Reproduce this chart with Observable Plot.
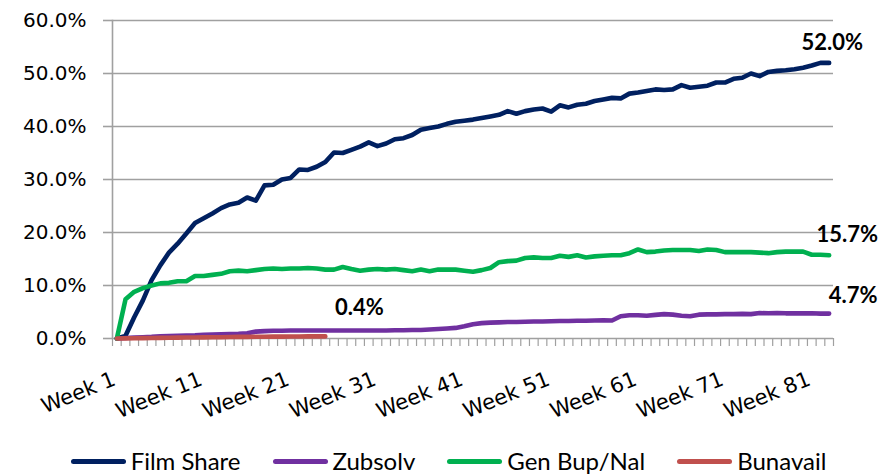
<!DOCTYPE html>
<html>
<head>
<meta charset="utf-8">
<script src="https://cdn.jsdelivr.net/npm/d3@7"></script>
<script src="https://cdn.jsdelivr.net/npm/@observablehq/plot@0.6"></script>
<style>
  html, body { margin: 0; padding: 0; background: #fff; }
  #chart { width: 881px; height: 476px; overflow: hidden; }
  #chart svg { display: block; }
  .legend { display: flex; justify-content: center; align-items: center; gap: 32px;
    font-family: Lato, "Noto Sans", sans-serif; font-size: 24px; color: #000;
    height: 30px; line-height: 30px; margin-top: 6px; padding-left: 16px; }
  .legend .item { display: flex; align-items: center; gap: 5px; }
  .legend .sw { display: inline-block; width: 55px; height: 5px; border-radius: 3px; }
</style>
</head>
<body>
<div id="chart"></div>
<script>
const weeks = d3.range(1, 84);
const filmShare = [0,0.5,4.0,7.2,11.0,13.8,16.2,17.9,19.8,21.8,22.7,23.6,24.6,25.3,25.6,26.6,26.0,28.9,29.0,30.0,
  30.3,31.9,31.8,32.4,33.3,35.1,35.0,35.6,36.2,37.0,36.3,36.8,37.6,37.8,38.4,39.4,39.7,40.0,40.5,40.9,
  41.1,41.3,41.6,41.9,42.2,42.9,42.4,42.9,43.2,43.4,42.8,44.0,43.6,44.1,44.3,44.8,45.1,45.4,45.3,46.2,
  46.4,46.7,47.0,46.9,47.0,47.8,47.3,47.5,47.7,48.3,48.3,49.0,49.2,50.0,49.5,50.3,50.5,50.6,50.8,51.1,
  51.5,52.0,52.0];
const zubsolv = [0,0.1,0.2,0.25,0.3,0.4,0.45,0.5,0.55,0.6,0.7,0.75,0.8,0.85,0.9,1.0,1.3,1.4,1.45,1.45,
  1.5,1.5,1.5,1.5,1.5,1.5,1.5,1.5,1.5,1.5,1.5,1.5,1.55,1.55,1.6,1.6,1.7,1.8,1.9,2.0,
  2.3,2.7,2.9,3.0,3.05,3.1,3.1,3.15,3.2,3.2,3.25,3.3,3.3,3.35,3.35,3.4,3.45,3.4,4.2,4.4,
  4.4,4.3,4.45,4.6,4.5,4.3,4.2,4.5,4.55,4.55,4.6,4.6,4.65,4.6,4.8,4.75,4.8,4.75,4.75,4.75,
  4.75,4.7,4.7];
const genBupNal = [0,7.4,8.8,9.5,10.0,10.4,10.5,10.8,10.8,11.8,11.8,12.0,12.2,12.7,12.8,12.7,12.9,13.1,13.2,13.1,
  13.2,13.2,13.3,13.2,13.0,13.0,13.5,13.1,12.8,13.0,13.1,13.0,13.1,12.9,12.7,13.0,12.7,13.0,13.0,13.0,
  12.8,12.6,12.9,13.3,14.4,14.6,14.7,15.2,15.3,15.2,15.2,15.6,15.4,15.7,15.3,15.5,15.6,15.7,15.7,16.1,
  16.8,16.3,16.4,16.6,16.7,16.7,16.7,16.5,16.8,16.7,16.3,16.3,16.3,16.3,16.2,16.1,16.3,16.4,16.4,16.4,
  15.8,15.8,15.7];
const bunavail = [0,0.02,0.05,0.08,0.1,0.12,0.15,0.17,0.2,0.2,0.22,0.25,0.25,0.27,0.3,0.3,0.32,0.33,0.35,0.35,
  0.37,0.38,0.4,0.4,0.4];
const seriesNames = ["Film Share", "Zubsolv", "Gen Bup/Nal", "Bunavail"];
const seriesColors = ["#002060", "#7030A0", "#00B050", "#C0504D"];
const seriesValues = [filmShare, zubsolv, genBupNal, bunavail];
const yTicks = [0, 10, 20, 30, 40, 50, 60];
const xLabelWeeks = [1, 11, 21, 31, 41, 51, 61, 71, 81];

const rows = seriesValues.map((vals, s) => vals.map((v, i) => ({series: seriesNames[s], week: weeks[i], value: v})));
const lastPoints = rows.map(r => r[r.length - 1]);
const labelOffsets = [{dx: 3, dy: -13}, {dx: 24, dy: -11}, {dx: 18, dy: -13}, {dx: 34, dy: -21}];
const boundaries = d3.range(0.5, weeks.length + 1, 1);

const gray = "#a0a0a0";
const marks = [
  Plot.gridY(yTicks, {stroke: gray, strokeOpacity: 1, strokeWidth: 1.6}),
  Plot.axisY(yTicks, {label: null, tickSize: 9, tickPadding: 17, stroke: gray, strokeWidth: 1.6,
    tickFormat: d => d.toFixed(1) + "%", fontSize: 20, fontFamily: "DejaVu Sans", fill: "#000"}),
  Plot.frame({anchor: "left", stroke: gray, strokeWidth: 1.6}),
  Plot.axisX(boundaries, {label: null, tickSize: 8, tickFormat: () => "", stroke: gray, strokeWidth: 1.2}),
  Plot.text(xLabelWeeks, {x: d => d, y: () => 0, text: d => "Week " + d, rotate: -22, textAnchor: "end",
    lineAnchor: "bottom", dx: 0, dy: 46, fontSize: 21, fontFamily: "DejaVu Sans", fill: "#000"}),
];
rows.forEach((r, s) => {
  marks.push(Plot.line(r, {x: "week", y: "value", stroke: seriesColors[s], strokeWidth: 4.6,
    strokeLinecap: "round", strokeLinejoin: "round"}));
});
lastPoints.forEach((p, s) => {
  marks.push(Plot.text([p], {x: "week", y: "value", text: d => d.value.toFixed(1) + "%",
    dx: labelOffsets[s].dx, dy: labelOffsets[s].dy, lineAnchor: "bottom", fontSize: 22,
    fontWeight: "bold", fontFamily: "Lato, 'Open Sans', sans-serif", fill: "#000"}));
});

const plot = Plot.plot({
  width: 881, height: 440,
  marginLeft: 112, marginRight: 48, marginTop: 20, marginBottom: 102,
  x: {type: "linear", domain: [0.5, weeks.length + 0.5], axis: null},
  y: {type: "linear", domain: [0, 60], axis: null},
  style: {background: "transparent", overflow: "visible"},
  marks
});
const chart = document.getElementById("chart");
chart.appendChild(plot);

const legend = document.createElement("div");
legend.className = "legend";
seriesNames.forEach((n, i) => {
  const it = document.createElement("div");
  it.className = "item";
  const sw = document.createElement("span");
  sw.className = "sw";
  sw.style.background = seriesColors[i];
  const t = document.createElement("span");
  t.textContent = n;
  it.appendChild(sw); it.appendChild(t);
  legend.appendChild(it);
});
chart.appendChild(legend);
</script>
</body>
</html>
